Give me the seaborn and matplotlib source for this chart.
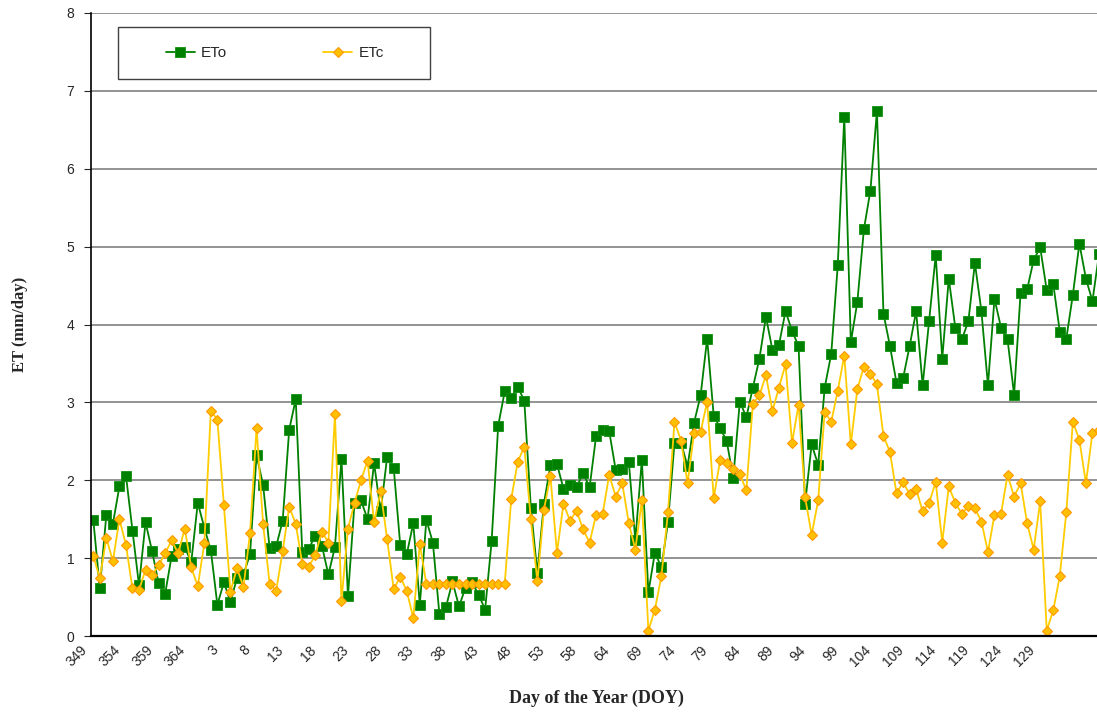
import numpy as np
import matplotlib
matplotlib.use("Agg")
import matplotlib.pyplot as plt
import matplotlib.patches as mpatches
import matplotlib.transforms as mtrans
import seaborn as sns

# day of year for each category (Dec 2004 -> May 2005)
doy = list(range(349, 367)) + list(range(1, 60)) + list(range(61, 139))

eto = [1.49, 0.61, 1.56, 1.44, 1.92, 2.06, 1.35, 0.65, 1.46, 1.09,
       0.68, 0.54, 1.03, 1.12, 1.14, 0.95, 1.71, 1.39, 1.10, 0.40,
       0.69, 0.44, 0.74, 0.79, 1.05, 2.32, 1.94, 1.13, 1.15, 1.48,
       2.65, 3.04, 1.08, 1.12, 1.29, 1.16, 0.79, 1.14, 2.27, 0.51,
       1.71, 1.74, 1.50, 2.22, 1.60, 2.30, 2.16, 1.17, 1.05, 1.45,
       0.40, 1.49, 1.20, 0.28, 0.37, 0.70, 0.38, 0.62, 0.69, 0.53,
       0.34, 1.22, 2.70, 3.14, 3.06, 3.20, 3.02, 1.65, 0.81, 1.70,
       2.19, 2.21, 1.89, 1.94, 1.91, 2.09, 1.91, 2.57, 2.65, 2.63,
       2.13, 2.15, 2.24, 1.23, 2.26, 0.56, 1.07, 0.88, 1.46, 2.48,
       2.48, 2.18, 2.74, 3.09, 3.82, 2.83, 2.67, 2.50, 2.03, 3.01,
       2.81, 3.19, 3.56, 4.10, 3.67, 3.74, 4.17, 3.92, 3.72, 1.70,
       2.46, 2.20, 3.19, 3.62, 4.76, 6.67, 3.77, 4.29, 5.22, 5.72,
       6.74, 4.14, 3.72, 3.25, 3.31, 3.72, 4.17, 3.22, 4.05, 4.89,
       3.56, 4.59, 3.96, 3.81, 4.04, 4.79, 4.17, 3.22, 4.33, 3.96,
       3.81, 3.10, 4.41, 4.45, 4.83, 4.99, 4.44, 4.52, 3.91, 3.82,
       4.38, 5.04, 4.59, 4.30, 4.90]

etc = [1.03, 0.74, 1.26, 0.96, 1.50, 1.17, 0.61, 0.59, 0.85, 0.78,
       0.91, 1.06, 1.23, 1.06, 1.38, 0.88, 0.64, 1.19, 2.89, 2.78,
       1.68, 0.57, 0.87, 0.63, 1.32, 2.67, 1.44, 0.67, 0.58, 1.09,
       1.66, 1.44, 0.93, 0.89, 1.04, 1.34, 1.20, 2.85, 0.45, 1.38,
       1.71, 2.00, 2.25, 1.46, 1.86, 1.24, 0.60, 0.76, 0.58, 0.23,
       1.18, 0.67, 0.67, 0.67, 0.67, 0.67, 0.67, 0.67, 0.67, 0.67,
       0.67, 0.67, 0.67, 0.67, 1.76, 2.24, 2.43, 1.50, 0.70, 1.62,
       2.05, 1.07, 1.70, 1.48, 1.61, 1.37, 1.20, 1.56, 1.57, 2.07,
       1.79, 1.96, 1.45, 1.11, 1.74, 0.07, 0.34, 0.77, 1.59, 2.75,
       2.51, 1.96, 2.61, 2.62, 3.01, 1.77, 2.26, 2.22, 2.15, 2.08,
       1.87, 2.98, 3.09, 3.35, 2.89, 3.19, 3.49, 2.48, 2.97, 1.78,
       1.30, 1.74, 2.88, 2.75, 3.15, 3.60, 2.46, 3.17, 3.46, 3.37,
       3.23, 2.57, 2.36, 1.83, 1.98, 1.82, 1.89, 1.60, 1.71, 1.98,
       1.20, 1.92, 1.71, 1.57, 1.67, 1.64, 1.47, 1.08, 1.56, 1.57,
       2.07, 1.79, 1.96, 1.45, 1.11, 1.73, 0.07, 0.33, 0.77, 1.59,
       2.75, 2.52, 1.96, 2.61, 2.65]

sns.set_style("white")
plt.rcParams['font.family'] = ['Liberation Sans', 'DejaVu Sans']

W, H = 1097, 713
fig = plt.figure(figsize=(W / 100, H / 100), dpi=100)
# plot area runs past the right edge, as in the cropped original
ax = fig.add_axes([91 / W, 77 / H, (1105.5 - 91) / W, 623 / H])

idx = np.arange(len(doy))

sns.lineplot(x=idx, y=eto, ax=ax, color="#008000", linewidth=1.3,
             marker="s", markersize=6.5, markerfacecolor="#008000",
             markeredgecolor="#109010", markeredgewidth=0.6, label="ETo")
sns.lineplot(x=idx, y=etc, ax=ax, color="#FFCC00", linewidth=1.3,
             marker="D", markersize=5, markerfacecolor="#FFC000",
             markeredgecolor="#FF9900", markeredgewidth=0.8, label="ETc")

ax.set_xlim(-0.352, 155)
ax.set_ylim(0, 8)
ax.set_yticks(range(0, 9))
ax.grid(axis="y", color="#808080", linewidth=1.2)
ax.set_axisbelow(True)

labels = [str(d) if (i % 5 == 0 and d != 134) else "" for i, d in enumerate(doy)]
ax.set_xticks(idx)
ax.set_xticklabels(labels, rotation=45, ha="right", rotation_mode="anchor")
ax.tick_params(axis="x", length=4, width=0.8, pad=1, labelsize=10, color="#333333")
ax.tick_params(axis="y", length=5, width=0.8, pad=7, labelsize=10, left=True)
shift = mtrans.ScaledTranslation(-13 / 100, 0, fig.dpi_scale_trans)
for lab in ax.get_xticklabels():
    lab.set_transform(lab.get_transform() + shift)

for s in ["top", "right"]:
    ax.spines[s].set_visible(False)
ax.spines["left"].set_color("black")
ax.spines["bottom"].set_color("black")
ax.spines["bottom"].set_linewidth(1.6)
ax.spines["left"].set_linewidth(1.2)

ax.set_xlabel("Day of the Year (DOY)", fontfamily="Liberation Serif",
              fontweight="bold", fontsize=13, va="top")
ax.xaxis.set_label_coords((596 - 91) / 1014.5, -(690 - 636) / 623)
ax.set_ylabel("ET (mm/day)", fontfamily="Liberation Serif",
              fontweight="bold", fontsize=12)
ax.yaxis.set_label_coords(-(91 - 28) / 1014.5, 0.5)

ax.legend(ncol=2, frameon=False, loc="center left",
          bbox_to_anchor=(158 / W, 1 - 53 / H), bbox_transform=fig.transFigure,
          borderpad=0, handlelength=1.9, handletextpad=0.4,
          columnspacing=6.3, fontsize=11)
box = mpatches.Rectangle((118 / W, 1 - 79 / H), 312 / W, 52 / H,
                         transform=fig.transFigure, fill=False,
                         edgecolor="#404040", linewidth=1.0, zorder=5)
fig.add_artist(box)

fig.savefig("out.png", dpi=100)
